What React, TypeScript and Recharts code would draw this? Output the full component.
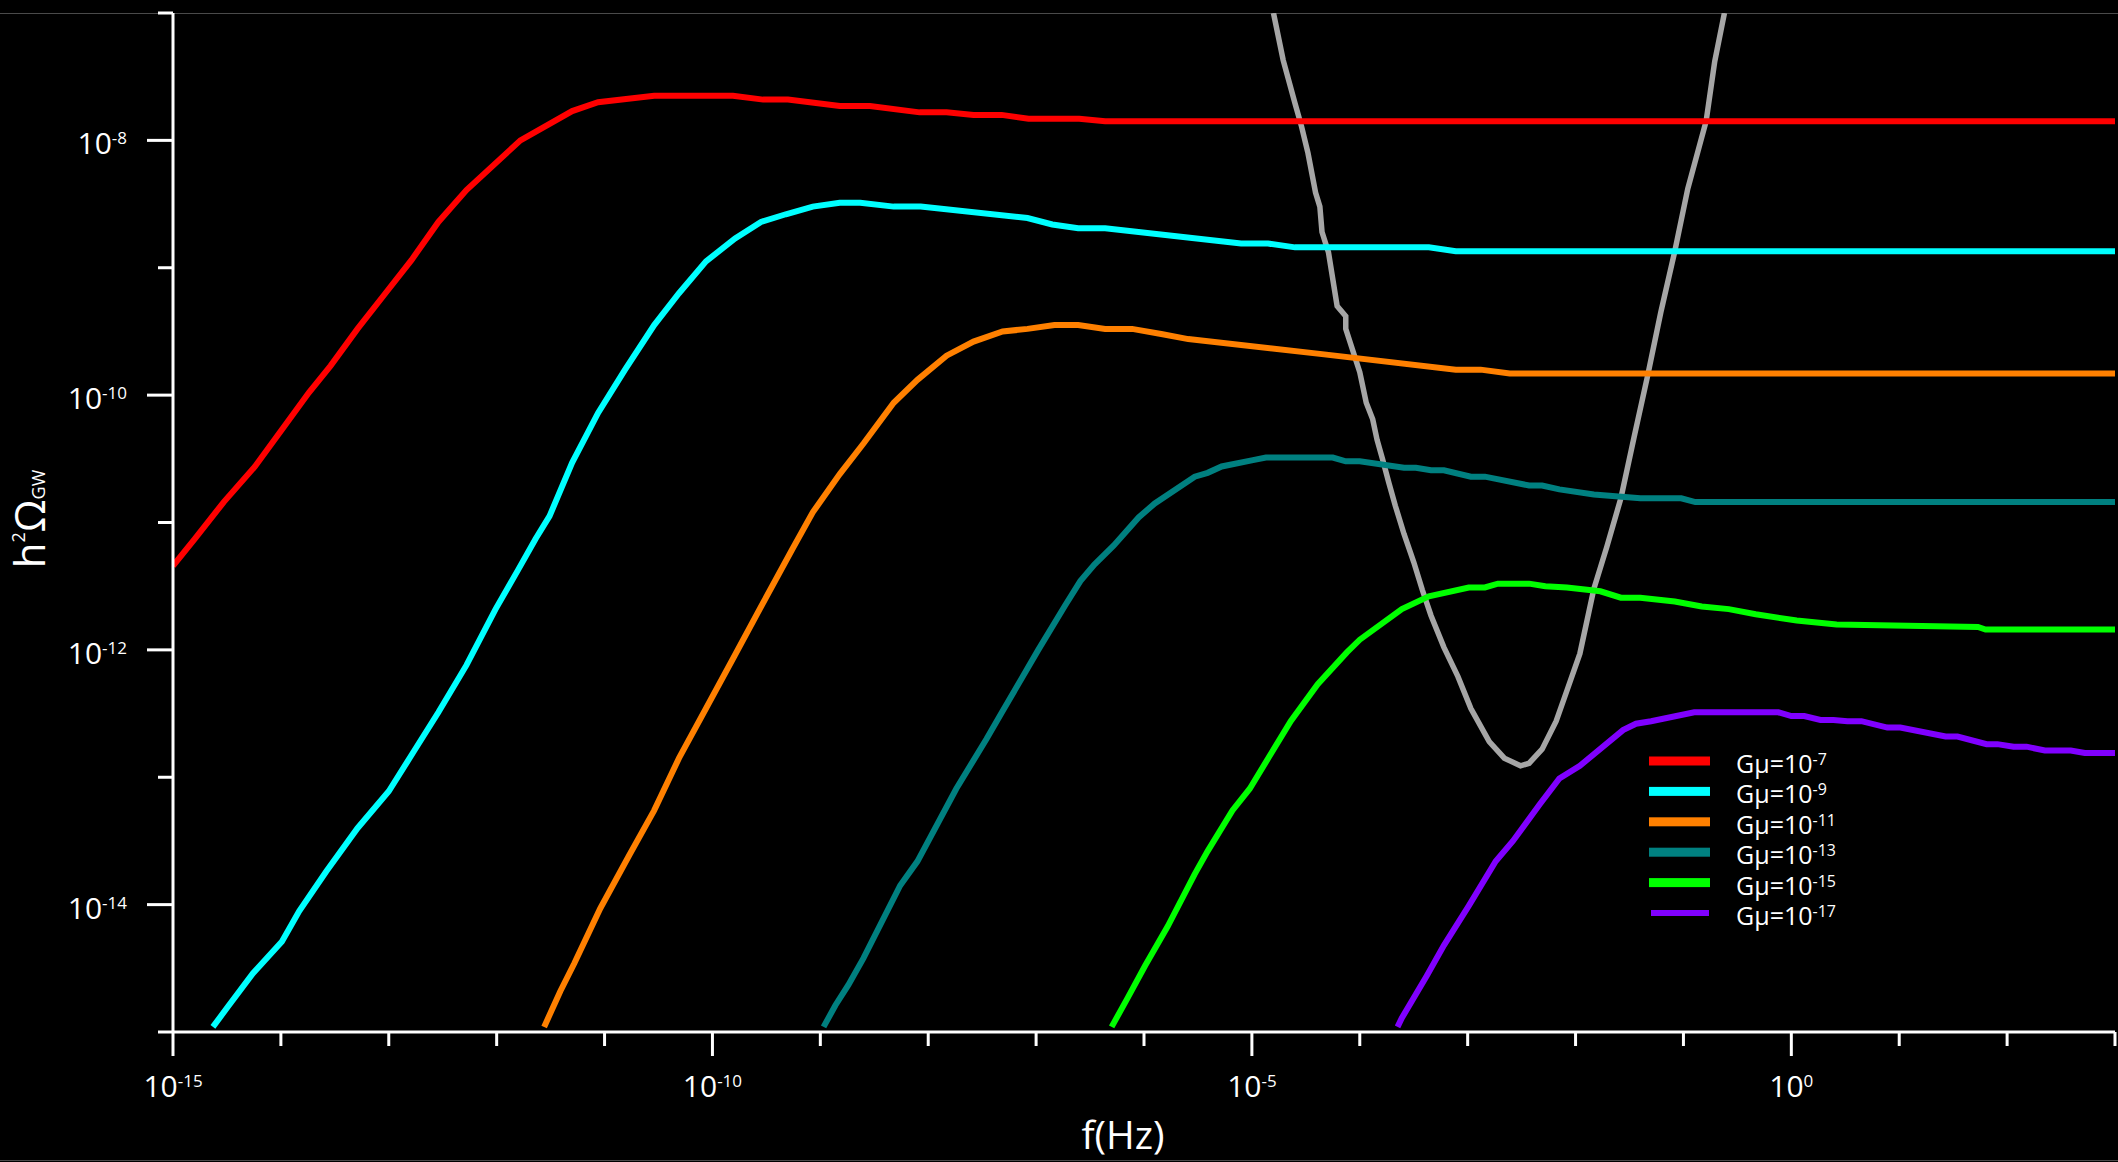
import { Legend, Line, LineChart, XAxis, YAxis } from "recharts";

const WIDTH = 2118;
const HEIGHT = 1162;
const FONT = "'Open Sans', 'DejaVu Sans', sans-serif";

// axis ticks, as powers of ten
const xTickExps = [-15, -14, -13, -12, -11, -10, -9, -8, -7, -6, -5, -4, -3, -2, -1, 0, 1, 2, 3];
const xLabelExps = [-15, -10, -5, 0];
const yTickExps = [-15, -14, -13, -12, -11, -10, -9, -8, -7];
const yLabelExps = [-14, -12, -10, -8];

const legendExps = ["-7", "-9", "-11", "-13", "-15", "-17"];
const seriesColors = ["#ff0000", "#00ffff", "#ff8000", "#008080", "#00ff00", "#8000ff"];
const sensitivityColor = "#a6a6a6";

// curves: [log10 f(Hz), log10 h²Ω_GW]
const gmu7: [number, number][] = [
  [-15, -11.34], [-14.8, -11.13], [-14.53, -10.84], [-14.24, -10.56], [-13.99, -10.27],
  [-13.74, -9.98], [-13.54, -9.77], [-13.29, -9.48], [-13.04, -9.21], [-12.79, -8.94],
  [-12.54, -8.64], [-12.28, -8.39], [-11.78, -8.0], [-11.3, -7.77], [-11.06, -7.7],
  [-10.54, -7.65], [-9.81, -7.65], [-9.53, -7.68], [-9.3, -7.68], [-8.82, -7.73],
  [-8.54, -7.73], [-8.08, -7.78], [-7.83, -7.78], [-7.58, -7.8], [-7.32, -7.8],
  [-7.07, -7.83], [-6.6, -7.83], [-6.36, -7.85], [3, -7.85],
];

const gmu9: [number, number][] = [
  [-14.63, -14.96], [-14.49, -14.8], [-14.26, -14.54], [-13.99, -14.29], [-13.83, -14.05],
  [-13.58, -13.74], [-13.29, -13.4], [-13.0, -13.11], [-12.77, -12.8], [-12.54, -12.49],
  [-12.28, -12.12], [-12.01, -11.68], [-11.8, -11.37], [-11.64, -11.13], [-11.51, -10.95],
  [-11.3, -10.53], [-11.06, -10.14], [-10.81, -9.8], [-10.54, -9.45], [-10.31, -9.2],
  [-10.06, -8.95], [-9.79, -8.77], [-9.55, -8.64], [-9.32, -8.58], [-9.07, -8.52],
  [-8.82, -8.49], [-8.63, -8.49], [-8.32, -8.52], [-8.07, -8.52], [-7.08, -8.61],
  [-6.85, -8.66], [-6.61, -8.69], [-6.36, -8.69], [-5.1, -8.81], [-4.85, -8.81],
  [-4.6, -8.84], [-3.36, -8.84], [-3.11, -8.87], [3, -8.87],
];

const gmu11: [number, number][] = [
  [-11.56, -14.96], [-11.41, -14.68], [-11.28, -14.46], [-11.04, -14.03], [-10.77, -13.61],
  [-10.54, -13.26], [-10.31, -12.85], [-10.06, -12.46], [-9.81, -12.07], [-9.53, -11.63],
  [-9.26, -11.21], [-9.07, -10.92], [-8.82, -10.62], [-8.6, -10.38], [-8.32, -10.06],
  [-8.1, -9.88], [-7.83, -9.69], [-7.58, -9.58], [-7.31, -9.5], [-7.08, -9.48],
  [-6.83, -9.45], [-6.61, -9.45], [-6.36, -9.48], [-6.11, -9.48], [-5.84, -9.52],
  [-5.59, -9.56], [-4.33, -9.68], [-3.11, -9.8], [-2.88, -9.8], [-2.61, -9.83], [3, -9.83],
];

const gmu13: [number, number][] = [
  [-8.97, -14.96], [-8.86, -14.79], [-8.74, -14.63], [-8.6, -14.42], [-8.26, -13.85],
  [-8.1, -13.66], [-7.74, -13.09], [-7.46, -12.7], [-7.31, -12.48], [-6.98, -12.0],
  [-6.73, -11.65], [-6.59, -11.46], [-6.46, -11.33], [-6.28, -11.18], [-6.05, -10.96],
  [-5.9, -10.85], [-5.53, -10.64], [-5.41, -10.61], [-5.28, -10.56], [-4.99, -10.51],
  [-4.87, -10.49], [-4.25, -10.49], [-4.13, -10.52], [-4.0, -10.52], [-3.59, -10.57],
  [-3.48, -10.57], [-3.34, -10.59], [-3.22, -10.59], [-2.97, -10.64], [-2.84, -10.64],
  [-2.43, -10.71], [-2.31, -10.71], [-2.15, -10.74], [-1.83, -10.78], [-1.4, -10.81],
  [-1.02, -10.81], [-0.89, -10.84], [3, -10.84],
];

const gmu15: [number, number][] = [
  [-6.3, -14.96], [-6.15, -14.73], [-5.99, -14.48], [-5.78, -14.17], [-5.53, -13.76],
  [-5.41, -13.58], [-5.18, -13.26], [-5.02, -13.09], [-4.64, -12.56], [-4.39, -12.27],
  [-4.12, -12.02], [-4.0, -11.92], [-3.61, -11.68], [-3.36, -11.58], [-2.99, -11.51],
  [-2.84, -11.51], [-2.72, -11.48], [-2.43, -11.48], [-2.28, -11.5], [-2.08, -11.51],
  [-1.77, -11.54], [-1.58, -11.59], [-1.4, -11.59], [-1.08, -11.62], [-0.83, -11.66],
  [-0.58, -11.68], [-0.33, -11.72], [0.05, -11.77], [0.42, -11.8], [1.73, -11.82],
  [1.8, -11.84], [3, -11.84],
];

const gmu17: [number, number][] = [
  [-3.65, -14.96], [-3.61, -14.89], [-3.38, -14.56], [-3.22, -14.32], [-2.99, -14.01],
  [-2.74, -13.66], [-2.58, -13.5], [-2.33, -13.21], [-2.15, -13.01], [-1.96, -12.91],
  [-1.56, -12.63], [-1.44, -12.58], [-1.3, -12.56], [-0.9, -12.49], [-0.12, -12.49],
  [0.0, -12.52], [0.12, -12.52], [0.27, -12.55], [0.39, -12.55], [0.52, -12.56],
  [0.65, -12.56], [0.89, -12.61], [1.01, -12.61], [1.43, -12.68], [1.54, -12.68],
  [1.81, -12.74], [1.91, -12.74], [2.06, -12.76], [2.18, -12.76], [2.35, -12.79],
  [2.59, -12.79], [2.72, -12.81], [3, -12.81],
];

// detector sensitivity curve (grey "U")
const sensitivity: [number, number][] = [
  [-4.8, -7.0], [-4.71, -7.37], [-4.6, -7.71], [-4.54, -7.89], [-4.48, -8.1],
  [-4.41, -8.41], [-4.37, -8.52], [-4.35, -8.72], [-4.29, -8.88], [-4.21, -9.3],
  [-4.13, -9.38], [-4.13, -9.48], [-4.0, -9.82], [-3.94, -10.06], [-3.88, -10.19],
  [-3.84, -10.35], [-3.79, -10.5], [-3.73, -10.69], [-3.67, -10.87], [-3.59, -11.09],
  [-3.5, -11.31], [-3.42, -11.53], [-3.34, -11.73], [-3.22, -11.98], [-3.09, -12.21],
  [-2.97, -12.46], [-2.8, -12.72], [-2.66, -12.85], [-2.51, -12.91], [-2.43, -12.89],
  [-2.31, -12.78], [-2.18, -12.56], [-2.08, -12.32], [-1.96, -12.03], [-1.83, -11.52],
  [-1.71, -11.19], [-1.58, -10.81], [-1.46, -10.34], [-1.33, -9.84], [-1.21, -9.35],
  [-1.08, -8.87], [-0.96, -8.38], [-0.79, -7.85], [-0.71, -7.38], [-0.62, -7.0],
];

const curves = [gmu7, gmu9, gmu11, gmu13, gmu15, gmu17];

const toPoints = (curve: [number, number][]) =>
  curve.map(([lf, lo]) => ({ f: 10 ** lf, omega: 10 ** lo }));

const xTicks = xTickExps.map((e) => 10 ** e);
const yTicks = yTickExps.map((e) => 10 ** e);

// eslint-disable-next-line @typescript-eslint/no-explicit-any
function XTick(props: any) {
  const { x, y, payload } = props;
  const exp = Math.round(Math.log10(payload.value));
  const major = xLabelExps.includes(exp);
  return (
    <g>
      <line x1={x} x2={x} y1={y} y2={y + (major ? 24 : 14)} stroke="#fff" strokeWidth={3} />
      {major && (
        <text x={x} y={y + 65} textAnchor="middle" fill="#fff" fontSize={30} fontFamily={FONT}>
          <tspan>10</tspan>
          <tspan dy={-10} fontSize={17}>
            {exp}
          </tspan>
        </text>
      )}
    </g>
  );
}

// eslint-disable-next-line @typescript-eslint/no-explicit-any
function YTick(props: any) {
  const { x, y, payload } = props;
  const exp = Math.round(Math.log10(payload.value));
  const major = yLabelExps.includes(exp);
  return (
    <g>
      <line x1={x - (major ? 26 : 15)} x2={x} y1={y} y2={y} stroke="#fff" strokeWidth={3} />
      {major && (
        <text x={x - 46} y={y + 14} textAnchor="end" fill="#fff" fontSize={30} fontFamily={FONT}>
          <tspan>10</tspan>
          <tspan dy={-10} fontSize={17}>
            {exp}
          </tspan>
        </text>
      )}
    </g>
  );
}

function LegendBox() {
  return (
    <svg width={320} height={200}>
      {legendExps.map((e, i) => {
        const cy = 21 + i * 30.4;
        const thin = i === 5;
        return (
          <g key={e}>
            <rect
              x={thin ? 11 : 9}
              y={cy - (thin ? 3 : 4.5)}
              width={thin ? 58 : 61}
              height={thin ? 6 : 9}
              fill={seriesColors[i]}
            />
            <text x={96} y={cy + 12} fill="#fff" fontSize={25} fontFamily={FONT}>
              <tspan>Gμ=10</tspan>
              <tspan dy={-8} fontSize={16}>
                {e}
              </tspan>
            </text>
          </g>
        );
      })}
    </svg>
  );
}

export default function App() {
  return (
    <div
      style={{
        position: "fixed",
        left: 0,
        top: 0,
        width: WIDTH,
        height: HEIGHT,
        background: "#000",
      }}
    >
      <div style={{ position: "absolute", left: 0, top: 13, width: WIDTH, height: 1, background: "#4a4a4a" }} />
      <div style={{ position: "absolute", left: 0, top: 1160, width: WIDTH, height: 1, background: "#4a4a4a" }} />
      <LineChart width={WIDTH} height={HEIGHT} margin={{ top: 13, right: 3, bottom: 0, left: 0 }}>
        <XAxis
          dataKey="f"
          type="number"
          scale="log"
          domain={[1e-15, 1e3]}
          allowDataOverflow
          ticks={xTicks}
          interval={0}
          height={130}
          tickLine={false}
          tickSize={0}
          tickMargin={0}
          tick={<XTick />}
          axisLine={{ stroke: "#fff", strokeWidth: 3 }}
          label={{
            content: () => (
              <text x={1123} y={1149} textAnchor="middle" fill="#fff" fontSize={39} fontFamily={FONT}>
                f(Hz)
              </text>
            ),
          }}
        />
        <YAxis
          type="number"
          scale="log"
          domain={[1e-15, 1e-7]}
          allowDataOverflow
          ticks={yTicks}
          interval={0}
          width={173}
          tickLine={false}
          tickSize={0}
          tickMargin={0}
          tick={<YTick />}
          axisLine={{ stroke: "#fff", strokeWidth: 3 }}
          label={{
            content: () => (
              <text
                x={45}
                y={519}
                transform="rotate(-90 45 519)"
                textAnchor="middle"
                fill="#fff"
                fontSize={42}
                fontFamily={FONT}
              >
                <tspan>h</tspan>
                <tspan dy={-20} fontSize={18}>
                  2
                </tspan>
                <tspan dy={20}>Ω</tspan>
                <tspan fontSize={18}>GW</tspan>
              </text>
            ),
          }}
        />
        <Legend
          layout="horizontal"
          verticalAlign="middle"
          align="center"
          content={() => <LegendBox />}
          wrapperStyle={{ left: 1640, top: 740, width: 320, height: 200 }}
        />
        <Line
          data={toPoints(sensitivity)}
          dataKey="omega"
          type="linear"
          stroke={sensitivityColor}
          strokeWidth={5.5}
          dot={false}
          activeDot={false}
          isAnimationActive={false}
        />
        {curves.map((curve, i) => (
          <Line
            key={legendExps[i]}
            data={toPoints(curve)}
            dataKey="omega"
            type="linear"
            stroke={seriesColors[i]}
            strokeWidth={6}
            dot={false}
            activeDot={false}
            isAnimationActive={false}
          />
        ))}
      </LineChart>
    </div>
  );
}
